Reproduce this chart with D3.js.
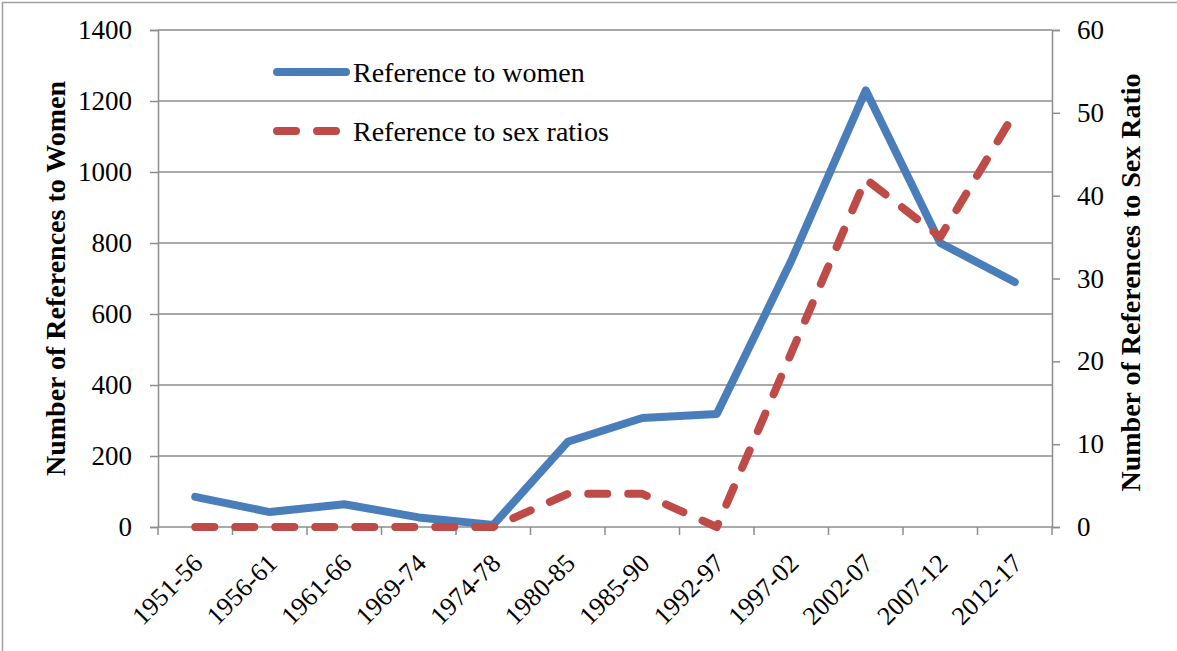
<!DOCTYPE html>
<html>
<head>
<meta charset="utf-8">
<script src="https://cdn.jsdelivr.net/npm/d3@7"></script>
<style>
  body { margin: 0; background: #fff; }
  text { font-family: "Liberation Serif", "DejaVu Serif", serif; }
</style>
</head>
<body>
<script>
const w = 1177;
const h = 651;

// data
const periods = ["1951-56", "1956-61", "1961-66", "1969-74", "1974-78", "1980-85",
                 "1985-90", "1992-97", "1997-02", "2002-07", "2007-12", "2012-17"];
const women = [85, 42, 64, 27, 6, 240, 307, 318, 750, 1230, 800, 690];
const sexRatio = [0, 0, 0, 0, 0, 4, 4, 0, 21, 42, 35, 50];
const leftTicks = [0, 200, 400, 600, 800, 1000, 1200, 1400];
const rightTicks = [0, 10, 20, 30, 40, 50, 60];

const blue = "#4a7ebb";
const red = "#be4b48";
const grid = "#8c8c8c";

let svg = d3.select("body").append("svg")
    .attr("width", w)
    .attr("height", h);

// outer frame
svg.append("rect")
    .attr("x", 2.5).attr("y", 2.5)
    .attr("width", w + 20).attr("height", h + 20)
    .attr("fill", "none")
    .attr("stroke", "#a0a0a0")
    .attr("stroke-width", 1.5);

const pl = 158, pr = 1052, pt = 30, pb = 527;

var x = d3.scaleBand()
    .domain(periods)
    .range([pl, pr]);

var yL = d3.scaleLinear().domain([0, 1400]).range([pb, pt]);
var yR = d3.scaleLinear().domain([0, 60]).range([pb, pt]);

// gridlines
svg.append("g")
    .selectAll("line")
    .data(leftTicks.slice(1))
    .join("line")
    .attr("x1", pl).attr("x2", pr)
    .attr("y1", d => yL(d)).attr("y2", d => yL(d))
    .attr("stroke", grid)
    .attr("stroke-width", 1.5);

function styleAxis(g) {
    g.selectAll("path, line").attr("stroke", grid).attr("stroke-width", 1.5);
    g.selectAll("text")
        .attr("fill", "#000")
        .style("font-size", "27px")
        .style("font-family", "'Liberation Serif', serif");
}

// left axis
svg.append("g")
    .attr("transform", "translate(" + pl + ",0)")
    .call(d3.axisLeft(yL).tickValues(leftTicks).tickFormat(d3.format("d"))
        .tickSize(8).tickSizeOuter(8).tickPadding(18))
    .call(styleAxis);

// right axis
svg.append("g")
    .attr("transform", "translate(" + pr + ",0)")
    .call(d3.axisRight(yR).tickValues(rightTicks).tickFormat(d3.format("d"))
        .tickSize(8).tickSizeOuter(8).tickPadding(17))
    .call(styleAxis);

// bottom axis: ticks at band boundaries
let xAxis = svg.append("g")
    .attr("transform", "translate(0," + pb + ")");
xAxis.append("line")
    .attr("x1", pl).attr("x2", pr)
    .attr("stroke", grid).attr("stroke-width", 1.5);
xAxis.selectAll(".tk")
    .data(periods.concat(["end"]))
    .join("line")
    .attr("class", "tk")
    .attr("x1", (d, i) => pl + i * x.step())
    .attr("x2", (d, i) => pl + i * x.step())
    .attr("y1", 0).attr("y2", 8)
    .attr("stroke", grid).attr("stroke-width", 1.5);
xAxis.selectAll(".lbl")
    .data(periods)
    .join("text")
    .attr("class", "lbl")
    .attr("transform", d => "translate(" + (x(d) + x.bandwidth() / 2 - 4) + ",25) rotate(-45)")
    .attr("text-anchor", "end")
    .attr("dy", "0.7em")
    .style("font-size", "26px")
    .text(d => d);

// lines
const cx = d => x(d) + x.bandwidth() / 2;

svg.append("path")
    .datum(women)
    .attr("fill", "none")
    .attr("stroke", blue)
    .attr("stroke-width", 8)
    .attr("stroke-linecap", "round")
    .attr("stroke-linejoin", "round")
    .attr("d", d3.line()
        .x((d, i) => cx(periods[i]))
        .y(d => yL(d)));

svg.append("path")
    .datum(sexRatio)
    .attr("fill", "none")
    .attr("stroke", red)
    .attr("stroke-width", 8)
    .attr("stroke-linecap", "round")
    .attr("stroke-linejoin", "round")
    .attr("stroke-dasharray", "19,21")
    .attr("d", d3.line()
        .x((d, i) => cx(periods[i]))
        .y(d => yR(d)));

// axis titles
svg.append("text")
    .attr("transform", "translate(65," + ((pt + pb) / 2 + 0) + ") rotate(-90)")
    .attr("text-anchor", "middle")
    .style("font-size", "28px")
    .style("font-weight", "bold")
    .text("Number of References to Women");

svg.append("text")
    .attr("transform", "translate(1140," + ((pt + pb) / 2 + 4) + ") rotate(-90)")
    .attr("text-anchor", "middle")
    .style("font-size", "28px")
    .style("font-weight", "bold")
    .text("Number of References to Sex Ratio");

// legend
const legend = [
    { name: "Reference to women", color: blue, dash: null, y: 72 },
    { name: "Reference to sex ratios", color: red, dash: "19,21", y: 131 }
];
let lg = svg.append("g");
lg.selectAll("line")
    .data(legend)
    .join("line")
    .attr("x1", 277).attr("x2", 346)
    .attr("y1", d => d.y).attr("y2", d => d.y)
    .attr("stroke", d => d.color)
    .attr("stroke-width", 8)
    .attr("stroke-linecap", "round")
    .attr("stroke-dasharray", d => d.dash);
lg.selectAll("text")
    .data(legend)
    .join("text")
    .attr("x", 353)
    .attr("y", d => d.y)
    .attr("dy", "0.35em")
    .style("font-size", "28px")
    .text(d => d.name);
</script>
</body>
</html>
